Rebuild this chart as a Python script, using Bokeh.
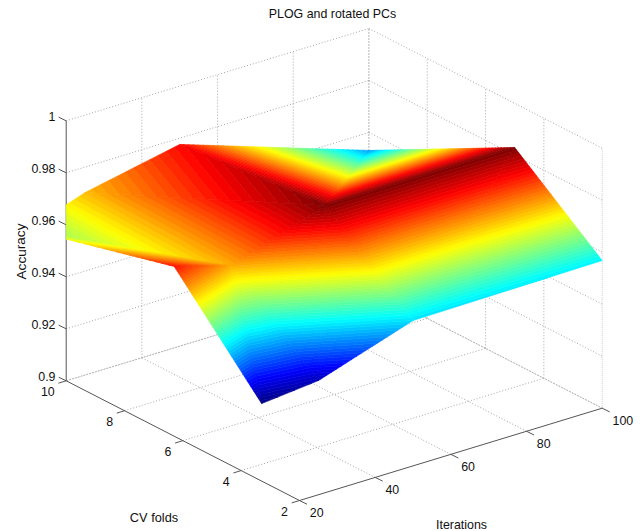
from bokeh.plotting import figure, ColumnDataSource
from bokeh.models import Range1d
from bokeh.core.properties import value
from bokeh.embed import file_html
from bokeh.resources import INLINE

# ---- data ----
iterations = [10, 25, 50, 100]
folds = [2, 5, 10]
accuracy_fold2 = [0.9417, 0.9439, 0.9559, 0.9568]
accuracy_fold5 = [0.9772, 0.9709, 0.9829, 0.9830]
accuracy_fold10 = [0.9626, 0.9702, 0.9776, 0.9531]

iter_ticks = [20, 40, 60, 80, 100]
fold_ticks = [2, 4, 6, 8, 10]
acc_ticks = [0.9, 0.92, 0.94, 0.96, 0.98, 1.0]
acc_labels = ["0.9", "0.92", "0.94", "0.96", "0.98", "1"]
title = "PLOG and rotated PCs"
xlabel = "Iterations"
ylabel = "CV folds"
zlabel = "Accuracy"

# ---- view: an oblique projection of the 3-D box onto the page ----
ORIGIN = (65.7, 380.3)
IT_VEC = (302.7, -92.3)
FO_VEC = (233.3, 119.7)
Z_SPAN = 260.0
FONT = "Liberation Sans"
# which way each grid cell of the fold 5-10 strip is split (True: rising diagonal)
SPLIT_BACK = [False, False, True]
SPLIT_FRONT = [True, True, True]


def proj(it, fo, ac):
    a = (it - 20) / 80
    b = (10 - fo) / 8
    return (ORIGIN[0] + a * IT_VEC[0] + b * FO_VEC[0],
            ORIGIN[1] + a * IT_VEC[1] + b * FO_VEC[1] - (ac - 0.9) / 0.1 * Z_SPAN)


def jet(t):
    def ch(v):
        return max(0.0, min(1.0, v))
    r = ch(min(4 * t - 1.5, -4 * t + 4.5))
    g = ch(min(4 * t - 0.5, -4 * t + 3.5))
    b = ch(min(4 * t + 0.5, -4 * t + 2.5))
    return "#%02x%02x%02x" % (round(r * 255), round(g * 255), round(b * 255))


def clip(poly, f):
    """Clip a convex polygon of (x, y, z) to f(pt) >= 0."""
    out = []
    for i, cur in enumerate(poly):
        nxt = poly[(i + 1) % len(poly)]
        fc, fn = f(cur), f(nxt)
        if fc >= 0:
            out.append(cur)
        if (fc >= 0) != (fn >= 0):
            t = fc / (fc - fn)
            out.append(tuple(c + t * (n - c) for c, n in zip(cur, nxt)))
    return out


W, H = 644, 531
p = figure(width=W, height=H, output_backend="svg", toolbar_location=None,
           x_range=Range1d(0, W), y_range=Range1d(H, 0), min_border=0)
p.axis.visible = False
p.grid.visible = False
p.outline_line_color = None
p.background_fill_color = "white"
p.border_fill_color = "white"

GRID = "#a6a6a6"
AXIS = "#555555"


def seg(a, b, color=GRID, dash="1 2", width=1.0):
    p.line([a[0], b[0]], [a[1], b[1]], line_color=color, line_dash=dash, line_width=width)


# grid on floor and back walls
for it in iter_ticks[1:4]:
    seg(proj(it, 2, 0.9), proj(it, 10, 0.9))
    seg(proj(it, 10, 0.9), proj(it, 10, 1.0))
for fo in fold_ticks[1:4]:
    seg(proj(20, fo, 0.9), proj(100, fo, 0.9))
    seg(proj(100, fo, 0.9), proj(100, fo, 1.0))
for ac in acc_ticks[1:]:
    seg(proj(20, 10, ac), proj(100, 10, ac))
    seg(proj(100, 10, ac), proj(100, 2, ac))
seg(proj(20, 10, 0.9), proj(100, 10, 0.9), "#aaaaaa", "2 1")
seg(proj(100, 10, 0.9), proj(100, 2, 0.9), "#aaaaaa", "2 1")
seg(proj(100, 10, 0.9), proj(100, 10, 1.0), "#666666", "1 2")
seg(proj(100, 2, 0.9), proj(100, 2, 1.0), "#cccccc", "1 1")

# axes lines and ticks
seg(proj(20, 10, 0.9), proj(20, 10, 1.0), AXIS, "solid")
seg(proj(20, 10, 0.9), proj(20, 2, 0.9), AXIS, "solid")
seg(proj(20, 2, 0.9), proj(100, 2, 0.9), AXIS, "solid")
for ac in acc_ticks:
    a = proj(20, 10, ac)
    seg(a, (a[0] - 7.5, a[1] - 3.6), AXIS, "solid")
for fo in fold_ticks:
    a = proj(20, fo, 0.9)
    seg(a, (a[0] - 7.8, a[1] + 2.4), AXIS, "solid")
for it in iter_ticks:
    a = proj(it, 2, 0.9)
    seg(a, (a[0] + 7.5, a[1] + 3.7), AXIS, "solid")

# surface: two triangles per grid cell, banded through a 64-level jet map
rows = [accuracy_fold2, accuracy_fold5, accuracy_fold10]
zmin = min(min(r) for r in rows)
zmax = max(max(r) for r in rows)
LEFT = ORIGIN[0]
N = 64


def vert(j, k):
    x, y = proj(iterations[j], folds[k], rows[k][j])
    return (x, y, rows[k][j])


tris = []
for k, splits in enumerate([SPLIT_FRONT, SPLIT_BACK]):
    for j, rising in enumerate(splits):
        v00, v10, v01, v11 = vert(j, k), vert(j + 1, k), vert(j, k + 1), vert(j + 1, k + 1)
        if rising:
            tris.append((v00, v10, v11))
            tris.append((v00, v11, v01))
        else:
            tris.append((v00, v10, v01))
            tris.append((v10, v11, v01))


def depth(t):
    s = 0
    for (x, y, z) in t:
        s += y + (z - 0.9) / 0.1 * Z_SPAN * 1.3
    return s


tris.sort(key=depth)
xs, ys, cols = [], [], []
for t in tris:
    poly0 = clip(list(t), lambda q: q[0] - LEFT)
    if len(poly0) < 3:
        continue
    for n in range(N):
        lo = zmin + (zmax - zmin) * n / N
        hi = zmin + (zmax - zmin) * (n + 1) / N
        if n == N - 1:
            hi += 1
        if n == 0:
            lo -= 1
        poly = clip(poly0, lambda q: q[2] - lo)
        if len(poly) >= 3:
            poly = clip(poly, lambda q: hi - q[2])
        if len(poly) >= 3:
            xs.append([q[0] for q in poly])
            ys.append([q[1] for q in poly])
            cols.append(jet((n + 0.5) / N))

p.patches(xs="xs", ys="ys", fill_color="cols", line_color="cols", line_width=0.6,
          source=ColumnDataSource(dict(xs=xs, ys=ys, cols=cols)))


# texts
def label(x, y, s, dx=0, dy=0, align="center", angle=0.0, size="12.4px"):
    p.text([x], [y], text=[s], x_offset=dx, y_offset=dy, text_align=align,
           text_baseline="middle", text_font=value(FONT), text_font_size=size,
           text_color="#111111", angle=angle)


for ac, s in zip(acc_ticks, acc_labels):
    a = proj(20, 10, ac)
    label(a[0], a[1], s, dx=-10.7, dy=-4, align="right")
for fo in fold_ticks:
    a = proj(20, fo, 0.9)
    label(a[0], a[1], str(fo), dx=-11.5, dy=11, align="right")
for it in iter_ticks:
    a = proj(it, 2, 0.9)
    label(a[0], a[1], str(it), dx=10.3, dy=12, align="left")

label(332, 13, title)
label(461, 524, xlabel)
label(153.5, 517, ylabel, size="12.8px")
label(20.5, 251, zlabel, angle=1.5708, size="13.6px")

open("out.html", "w").write(file_html(p, INLINE))
